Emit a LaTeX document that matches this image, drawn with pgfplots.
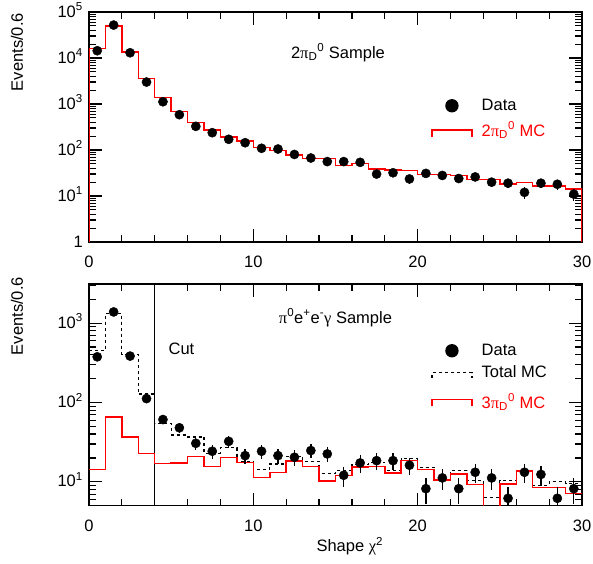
\documentclass[border=0pt]{standalone}
\usepackage{fontspec}
\setmainfont{Liberation Sans}
\newfontfamily\grk{Liberation Serif}
\usepackage{pgfplots}
\pgfplotsset{compat=1.18}
\newcommand{\fs}{\fontsize{16.5}{19.8}\selectfont}
\begin{document}
\fs
\begin{tikzpicture}
% ---------------- top panel ----------------
\begin{axis}[scale only axis, width=493pt, height=230pt, xmin=0, xmax=30, ymode=log,
  at={(89pt,-242pt)}, anchor=south west,
  axis line style={line width=1.5pt},
  major tick length=13pt, minor tick length=7pt,
  tick style={black, line width=1.2pt},
  xtick={0,10,20,30}, xticklabels={0,10,20,30},
  minor xtick={2,4,6,8,12,14,16,18,22,24,26,28},
  xticklabel style={inner sep=0pt, anchor=north, yshift=-14pt, font=\fs},
  yticklabel style={inner sep=0pt, anchor=base east, xshift=-6pt, yshift=-5pt, font=\fs},
  ymin=1, ymax=1e5,
  ytick={1,10,100,1000,10000,100000},
  yticklabels={1,10\textsuperscript{1},10\textsuperscript{2},10\textsuperscript{3},10\textsuperscript{4},10\textsuperscript{5}},
  minor ytick={2,3,4,5,6,7,8,9,20,30,40,50,60,70,80,90,200,300,400,500,600,700,800,900,2000,3000,4000,5000,6000,7000,8000,9000,20000,30000,40000,50000,60000,70000,80000,90000},
  ylabel={Events/0.6},
  ylabel style={at={(axis description cs:-0.134,0.996)}, anchor=base east, inner sep=0pt, font=\fs},
  legend cell align=left,
  legend style={draw=none, fill=none, inner sep=0pt, font=\fs, column sep=7pt, row sep=5pt,
    at={(axis description cs:0.6937,0.632)}, anchor=north west},
]
\addlegendimage{legend image code/.code={\path[draw=none,fill=none] (0pt,-7pt) rectangle (40pt,7pt); \fill[black,draw=none] (20pt,0pt) circle (6.7pt);}}
\addlegendentry{Data}
\addlegendimage{legend image code/.code={\path[draw=none,fill=none] (0pt,-7pt) rectangle (40pt,7pt); \draw[red, fill=none, line width=1.5pt] (0pt,-7pt) -- (0pt,0pt) -- (40pt,0pt) -- (40pt,-7pt);}}
\addlegendentry{\color{red}2{\grk π}\textsubscript{D}\textsuperscript{0} MC}
\addplot[red, line width=1.5pt, const plot, forget plot] coordinates {
(0,1) (0,16200) (1,49600) (2,13500) (3,3550) (4,1400) (5,680) (6,400) (7,272) (8,192) (9,157)
(10,112) (11,97) (12,78) (13,66) (14,65) (15,46) (16,51) (17,39) (18,37) (19,35.5)
(20,29.6) (21,29.6) (22,27.7) (23,23) (24,23) (25,18.4) (26,19.8) (27,16.5) (28,16.5) (29,14.2) (30,14.2) (30,1)};
\addplot[forget plot, only marks, mark=*, mark size=4.6pt, black,
  error bars/y dir=both, error bars/y explicit, error bars/error mark=none,
  error bars/error bar style={line width=1.3pt, black}] coordinates {
(0.5,14400) +- (0,120)
(1.5,52000) +- (0,228)
(2.5,13000) +- (0,114)
(3.5,3000) +- (0,55)
(4.5,1120) +- (0,33)
(5.5,586) +- (0,24)
(6.5,327) +- (0,18)
(7.5,238) +- (0,15)
(8.5,171) +- (0,13)
(9.5,144) +- (0,12)
(10.5,109) +- (0,10)
(11.5,105) +- (0,10)
(12.5,80) +- (0,9)
(13.5,67) +- (0,8)
(14.5,56) +- (0,7.5)
(15.5,56) +- (0,7.5)
(16.5,54) +- (0,7.3)
(17.5,30) +- (0,5.5)
(18.5,32) +- (0,5.7)
(19.5,23.5) +- (0,4.8)
(20.5,31) +- (0,5.6)
(21.5,28) +- (0,5.3)
(22.5,24) +- (0,4.9)
(23.5,26) +- (0,5.1)
(24.5,20) +- (0,4.5)
(25.5,19) +- (0,4.4)
(26.5,12) +- (0,3.5)
(27.5,19) +- (0,4.4)
(28.5,18) +- (0,4.2)
(29.5,11) +- (0,3.3)
};
\node[anchor=base, font=\fs] at (axis description cs:0.505,0.799) {2{\grk π}\textsubscript{D}\textsuperscript{0} Sample};
\end{axis}
% ---------------- bottom panel ----------------
\begin{axis}[scale only axis, width=493pt, height=221.7pt, xmin=0, xmax=30, ymode=log,
  at={(89pt,-505.7pt)}, anchor=south west,
  axis line style={line width=1.5pt},
  major tick length=13pt, minor tick length=7pt,
  tick style={black, line width=1.2pt},
  xtick={0,10,20,30}, xticklabels={0,10,20,30},
  minor xtick={2,4,6,8,12,14,16,18,22,24,26,28},
  xticklabel style={inner sep=0pt, anchor=north, yshift=-14pt, font=\fs},
  yticklabel style={inner sep=0pt, anchor=base east, xshift=-6pt, yshift=-5pt, font=\fs},
  ymin=5, ymax=3120,
  ytick={10,100,1000},
  yticklabels={10\textsuperscript{1},10\textsuperscript{2},10\textsuperscript{3}},
  minor ytick={6,7,8,9,20,30,40,50,60,70,80,90,200,300,400,500,600,700,800,900,2000,3000},
  ylabel={Events/0.6},
  ylabel style={at={(axis description cs:-0.134,1.0316)}, anchor=base east, inner sep=0pt, font=\fs},
  xlabel={Shape {\grk χ}\textsuperscript{2}},
  xlabel style={at={(axis description cs:0.529,0)}, anchor=base, yshift=-46pt, inner sep=0pt, font=\fs},
  legend cell align=left,
  legend style={draw=none, fill=none, inner sep=0pt, font=\fs, column sep=7pt, row sep=4pt,
    at={(axis description cs:0.6937,0.74)}, anchor=north west},
]
\addlegendimage{legend image code/.code={\path[draw=none,fill=none] (0pt,-7pt) rectangle (40pt,7pt); \fill[black,draw=none] (20pt,0pt) circle (6.7pt);}}
\addlegendentry{Data}
\addlegendimage{legend image code/.code={\path[draw=none,fill=none] (0pt,-7pt) rectangle (40pt,7pt); \draw[black, fill=none, line width=1.2pt, dash pattern=on 3pt off 3pt] (0pt,-5pt) -- (0pt,0pt) -- (40pt,0pt) -- (40pt,-5pt);}}
\addlegendentry{Total MC}
\addlegendimage{legend image code/.code={\path[draw=none,fill=none] (0pt,-7pt) rectangle (40pt,7pt); \draw[red, fill=none, line width=1.5pt] (0pt,-7pt) -- (0pt,0pt) -- (40pt,0pt) -- (40pt,-7pt);}}
\addlegendentry{\rule{0pt}{20pt}\color{red}3{\grk π}\textsubscript{D}\textsuperscript{0} MC}
\addplot[black, line width=1.2pt, forget plot] coordinates {(4,5) (4,3120)};
\addplot[black, line width=1.2pt, dash pattern=on 3pt off 3pt, const plot, forget plot] coordinates {
(0,449) (1,1320) (2,407) (3,128) (4,54) (5,39) (6,36.8) (7,23) (8,27) (9,18)
(10,14.3) (11,16.8) (12,21) (13,18.2) (14,12.7) (15,13.9) (16,16.5) (17,17.7) (18,13.9) (19,19.8)
(20,15.3) (21,10.7) (22,14) (23,10.5) (24,6.3) (25,10.5) (26,13.9) (27,9) (28,10) (29,9.5) (30,9.5)};
\addplot[red, line width=1.5pt, const plot, forget plot] coordinates {
(0,14.3) (1,65.6) (2,37) (3,22.7) (4,17) (5,17.3) (6,21) (7,15.6) (8,20.4) (9,17.5)
(10,11.3) (11,13.2) (12,18.2) (13,15.7) (14,10.2) (15,12) (16,15.3) (17,15.7) (18,13) (19,18.5)
(20,14.3) (21,10.5) (22,12.5) (23,9.25) (24,3) (25,9.4) (26,13.6) (27,8.5) (28,8.5) (29,7.1) (30,7.1)};
\addplot[forget plot, only marks, mark=*, mark size=4.6pt, black,
  error bars/y dir=both, error bars/y explicit, error bars/error mark=none,
  error bars/error bar style={line width=1.3pt, black}] coordinates {
(0.5,377) +- (0,19)
(1.5,1387) +- (0,37)
(2.5,385) +- (0,20)
(3.5,112) +- (0,10.6)
(4.5,61) +- (0,7.8)
(5.5,48) +- (0,6.9)
(6.5,30.6) +- (0,5.5)
(7.5,24.3) +- (0,4.9)
(8.5,32.4) +- (0,5.7)
(9.5,21.4) +- (0,4.6)
(10.5,24.3) +- (0,4.9)
(11.5,21.4) +- (0,4.6)
(12.5,20.4) +- (0,4.5)
(13.5,24.8) +- (0,5)
(14.5,22.5) +- (0,4.7)
(15.5,12.1) +- (0,3.5)
(16.5,17.3) +- (0,4.2)
(17.5,18.5) +- (0,4.3)
(18.5,18.5) +- (0,4.3)
(19.5,16.2) +- (0,4)
(20.5,8.2) +- (0,2.9)
(21.5,11.2) +- (0,3.3)
(22.5,8.2) +- (0,2.9)
(23.5,13.2) +- (0,3.6)
(24.5,11.2) +- (0,3.3)
(25.5,6.2) +- (0,2.5)
(26.5,13.2) +- (0,3.6)
(27.5,12.4) +- (0,3.5)
(28.5,6.2) +- (0,2.5)
(29.5,8.2) +- (0,2.9)
};
\node[anchor=base, font=\fs] at (axis description cs:0.5,0.823) {{\grk π}\textsuperscript{0}e\textsuperscript{+}e\textsuperscript{-}{\grk γ} Sample};
\node[anchor=base west, font=\fs] at (axis description cs:0.150,0.680) {Cut};
\end{axis}
\pgfresetboundingbox
\useasboundingbox (0pt,0pt) rectangle (593pt,-563pt);
\end{tikzpicture}
\end{document}
